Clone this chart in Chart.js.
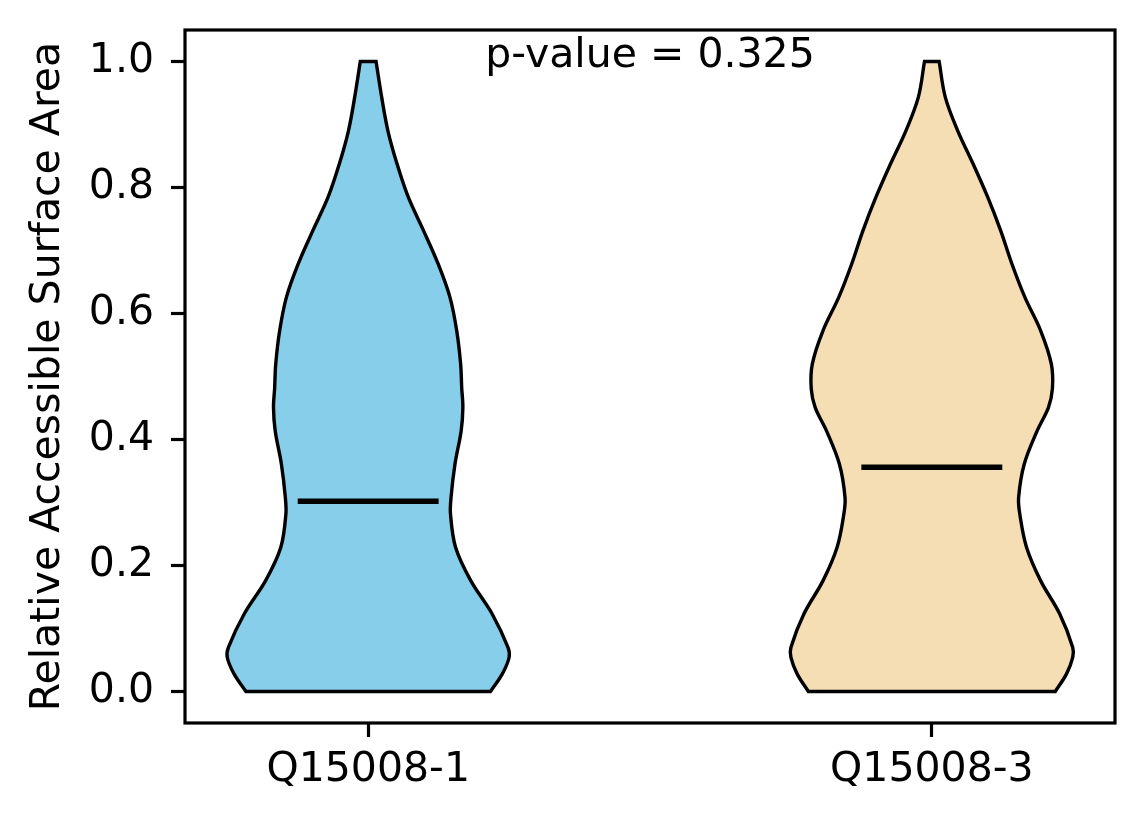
<!DOCTYPE html>
<html>
<head>
<meta charset="utf-8">
<script src="https://cdn.jsdelivr.net/npm/chart.js"></script>
<style>
  html, body { margin: 0; padding: 0; background: #fff; }
  #wrap { width: 1144px; height: 824px; }
</style>
</head>
<body>
<div id="wrap"><canvas id="myChart" width="1144" height="824"></canvas></div>
<script>
  // groups on the x axis
  var categories = ['Q15008-1', 'Q15008-3'];
  var positions = [1, 2];

  var levels = [0, 0.028, 0.054, 0.07, 0.123, 0.176, 0.229, 0.282, 0.308, 0.361, 0.414, 0.451,
                0.481, 0.52, 0.573, 0.626, 0.679, 0.732, 0.785, 0.838, 0.89, 0.943, 1.0];
  var halfWidth1 = [0.217, 0.238, 0.250, 0.248, 0.220, 0.182, 0.155, 0.146, 0.147, 0.154, 0.165, 0.168,
                    0.166, 0.164, 0.157, 0.145, 0.124, 0.098, 0.071, 0.051, 0.035, 0.024, 0.014];
  var halfWidth2 = [0.219, 0.239, 0.250, 0.250, 0.227, 0.193, 0.168, 0.156, 0.154, 0.164, 0.187, 0.207,
                    0.214, 0.212, 0.193, 0.165, 0.142, 0.122, 0.099, 0.073, 0.046, 0.024, 0.013];
  var medians = [0.302, 0.356];
  var yTicks = [0, 0.2, 0.4, 0.6, 0.8, 1.0];
  var pValue = 0.325;

  var fillColors = ['#87CEEB', '#F5DEB3'];
  var font = 'DejaVu Sans';
  var fontSize = 41;

  // closed outline of one violin (corner points doubled so they stay sharp)
  function violinOutline(pos, hw) {
    var n = levels.length;
    var pts = [{x: pos, y: levels[0]}];
    pts.push({x: pos + hw[0], y: levels[0]}, {x: pos + hw[0], y: levels[0]});
    for (var i = 1; i < n - 1; i++) pts.push({x: pos + hw[i], y: levels[i]});
    pts.push({x: pos + hw[n - 1], y: levels[n - 1]}, {x: pos + hw[n - 1], y: levels[n - 1]});
    pts.push({x: pos - hw[n - 1], y: levels[n - 1]}, {x: pos - hw[n - 1], y: levels[n - 1]});
    for (var j = n - 2; j >= 1; j--) pts.push({x: pos - hw[j], y: levels[j]});
    pts.push({x: pos - hw[0], y: levels[0]}, {x: pos - hw[0], y: levels[0]});
    pts.push({x: pos, y: levels[0]});
    return pts;
  }

  // medians first: chart.js paints dataset 0 last, so they sit on top
  var datasets = [];
  medians.forEach(function (m, k) {
    datasets.push({
      data: [{x: positions[k] - 0.125, y: m}, {x: positions[k] + 0.125, y: m}],
      showLine: true,
      fill: false,
      borderColor: '#000',
      borderWidth: 5.5,
      tension: 0,
      pointRadius: 0
    });
  });
  [halfWidth1, halfWidth2].forEach(function (hw, k) {
    datasets.push({
      data: violinOutline(positions[k], hw),
      showLine: true,
      fill: 'shape',
      backgroundColor: fillColors[k],
      borderColor: '#000',
      borderWidth: 3.4,
      tension: 0.35,
      pointRadius: 0,
      borderJoinStyle: 'miter'
    });
  });

  // frame round the plot and the p-value text
  var framePlugin = {
    id: 'frame',
    afterDraw: function (chart) {
      var a = chart.chartArea, ctx = chart.ctx;
      ctx.save();
      ctx.strokeStyle = '#000';
      ctx.lineWidth = 3.2;
      ctx.strokeRect(a.left, a.top, a.right - a.left, a.bottom - a.top);
      ctx.fillStyle = '#000';
      ctx.font = fontSize + 'px "' + font + '"';
      ctx.textAlign = 'center';
      ctx.textBaseline = 'alphabetic';
      ctx.fillText('p-value = ' + pValue.toFixed(3),
        chart.scales.x.getPixelForValue(1.5), chart.scales.y.getPixelForValue(0.992));
      ctx.restore();
    }
  };

  var ctx = document.getElementById('myChart').getContext('2d');
  window.myChart = new Chart(ctx, {
    type: 'scatter',
    data: { datasets: datasets },
    options: {
      responsive: false,
      animation: false,
      layout: { padding: { left: 0, top: 30, right: 29, bottom: 0 } },
      plugins: { legend: { display: false }, tooltip: { enabled: false } },
      scales: {
        x: {
          type: 'linear',
          min: 0.675,
          max: 2.325,
          afterBuildTicks: function (axis) {
            axis.ticks = positions.map(function (v) { return {value: v}; });
          },
          afterFit: function (axis) {
            axis.height = 101;
            axis.paddingLeft = 0; axis.paddingRight = 0;
          },
          grid: { drawOnChartArea: false, drawTicks: true, tickLength: 14, tickWidth: 3.2, tickColor: '#000' },
          border: { display: false },
          ticks: {
            autoSkip: false,
            maxRotation: 0,
            padding: 9,
            color: '#000',
            font: { family: font, size: fontSize },
            callback: function (v) { return categories[positions.indexOf(v)]; }
          }
        },
        y: {
          type: 'linear',
          min: -0.05,
          max: 1.05,
          afterBuildTicks: function (axis) {
            axis.ticks = yTicks.map(function (v) { return {value: v}; });
          },
          afterFit: function (axis) {
            axis.width = 185;
            axis.paddingTop = 0; axis.paddingBottom = 0;
          },
          grid: { drawOnChartArea: false, drawTicks: true, tickLength: 14, tickWidth: 3.2, tickColor: '#000' },
          border: { display: false },
          ticks: {
            padding: 17,
            color: '#000',
            font: { family: font, size: fontSize },
            callback: function (v) { return v.toFixed(1); }
          },
          title: {
            display: true,
            text: 'Relative Accessible Surface Area',
            color: '#000',
            font: { family: font, size: fontSize },
            padding: { top: 24, bottom: 0 }
          }
        }
      }
    },
    plugins: [framePlugin]
  });
</script>
</body>
</html>
